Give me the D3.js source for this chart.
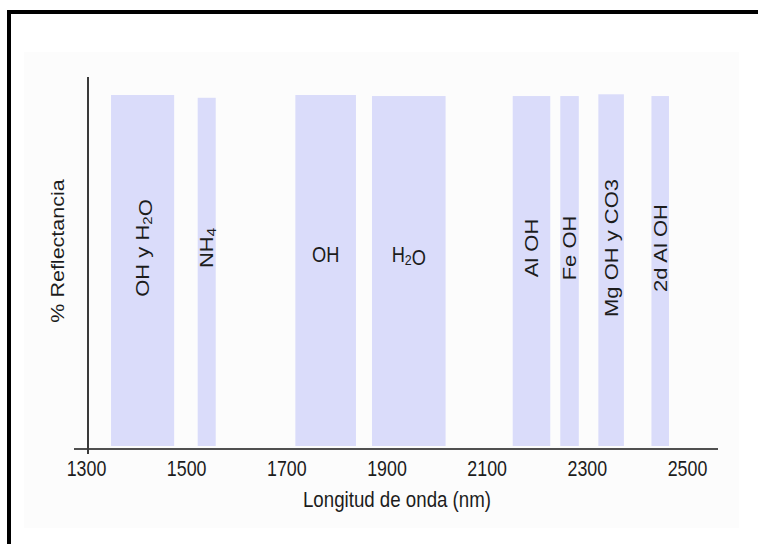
<!DOCTYPE html>
<html><head><meta charset="utf-8">
<script src="https://cdn.jsdelivr.net/npm/d3@7"></script>
<style>
body{margin:0;background:#fff}
svg{display:block}
text{font-family:"Liberation Sans",Arial,sans-serif;fill:#1c1c1c}
</style>
</head><body>
<svg id="c" width="758" height="544"></svg>
<script>
// ---- data ----
const bandLabels = ["OH y H_2O", "NH_4", "OH", "H_2O", "Al OH", "Fe OH", "Mg OH y CO3", "2d Al OH"];
const bandStart  = [1350, 1523, 1718, 1871, 2152, 2247, 2323, 2429];
const bandEnd    = [1476, 1559, 1839, 2018, 2227, 2284, 2374, 2464];
const bandTop    = [100, 99.2, 100, 99.7, 99.7, 99.7, 100.2, 99.7];
const bandVertical = [true, true, false, false, true, true, true, true];
const xTicks = [1300, 1500, 1700, 1900, 2100, 2300, 2500];
const xTitle = "Longitud de onda (nm)";
const yTitle = "% Reflectancia";

const bands = bandLabels.map((l, i) => ({label: l, x0: bandStart[i], x1: bandEnd[i], top: bandTop[i], vertical: bandVertical[i]}));

const svg = d3.select("#c");
const SX = 0.83; // horizontal squeeze of the original raster text

// frame and panel
svg.append("rect").attr("x", 24).attr("y", 52).attr("width", 715).attr("height", 476).attr("fill", "#fcfcfc");
svg.append("rect").attr("x", 9).attr("y", 12).attr("width", 800).attr("height", 600)
  .attr("fill", "none").attr("stroke", "#000").attr("stroke-width", 4);

const x = d3.scaleLinear().domain([1300, 2500]).range([86, 687]);
const y = d3.scaleLinear().domain([0, 100]).range([446, 95]);

// bands
svg.append("g").selectAll("rect").data(bands).join("rect")
  .attr("x", d => x(d.x0))
  .attr("width", d => x(d.x1) - x(d.x0))
  .attr("y", d => y(d.top))
  .attr("height", d => y(0) - y(d.top))
  .attr("fill", "#dadcfa");

function addRich(sel, str) {
  const parts = str.split(/_(\d)/);
  parts.forEach((p, i) => {
    if (p === "") return;
    if (i % 2 === 1) {
      sel.append("tspan").attr("font-size", 15).attr("dy", 3).text(p);
      sel.append("tspan").attr("dy", -3).text("");
    } else {
      sel.append("tspan").text(p);
    }
  });
}

// band labels
const lab = svg.append("g").attr("font-size", 22);
bands.forEach(d => {
  const cx = (x(d.x0) + x(d.x1)) / 2;
  if (d.vertical) {
    const t = lab.append("text")
      .attr("transform", `translate(${cx},248) scale(${SX},1) rotate(-90)`)
      .attr("text-anchor", "middle").attr("dy", "0.36em");
    addRich(t, d.label);
  } else {
    const t = lab.append("text")
      .attr("transform", `translate(${cx},262) scale(${SX},1)`)
      .attr("text-anchor", "middle");
    addRich(t, d.label);
  }
});

// x axis
const xAxis = d3.axisBottom(x).tickValues(xTicks).tickSize(0).tickFormat(d3.format("d"));
const gx = svg.append("g").attr("transform", "translate(0,449)").call(xAxis);
gx.select(".domain").remove();
gx.selectAll("text")
  .attr("y", 0).attr("dy", 0)
  .attr("transform", `translate(0,27) scale(0.81,1)`)
  .attr("font-size", 22).attr("font-family", "Liberation Sans, Arial, sans-serif").attr("fill", "#1c1c1c");

// axis lines
svg.append("line").attr("x1", 74).attr("x2", 718).attr("y1", 449).attr("y2", 449)
  .attr("stroke", "#505050").attr("stroke-width", 2);
svg.append("line").attr("x1", 88).attr("x2", 88).attr("y1", 77).attr("y2", 454)
  .attr("stroke", "#3a3a3a").attr("stroke-width", 2);

// titles
svg.append("text").attr("transform", `translate(397,507) scale(0.85,1)`)
  .attr("text-anchor", "middle").attr("font-size", 22).text(xTitle);
svg.append("text").attr("transform", `translate(57.5,251) scale(${SX},1) rotate(-90)`)
  .attr("text-anchor", "middle").attr("dy", "0.36em").attr("font-size", 21.5).text(yTitle);
</script>
</body></html>
